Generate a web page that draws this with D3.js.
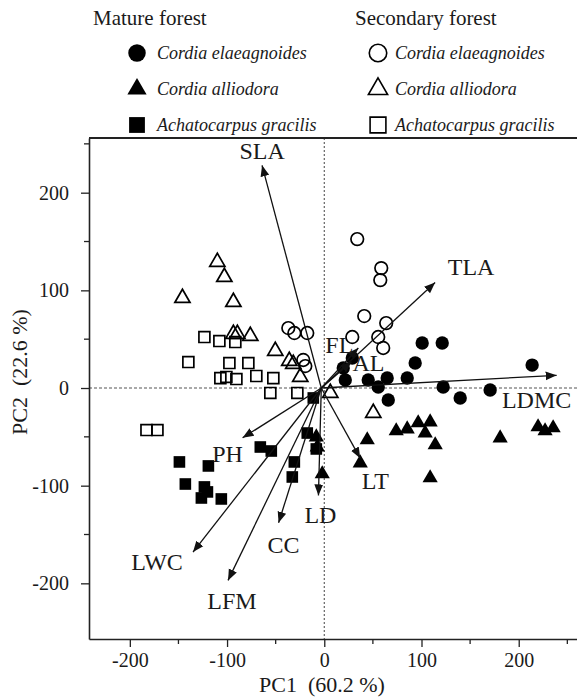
<!DOCTYPE html>
<html>
<head>
<meta charset="utf-8">
<script src="https://cdn.jsdelivr.net/npm/d3@7"></script>
<style>
  body { margin: 0; background: #fff; }
  svg { display: block; }
</style>
</head>
<body>
<svg id="chart"></svg>
<script>
// PC scores
var matureCordiaElae = [[19.5, 20.5], [28.8, 30.7], [21.6, 8.2], [45.2, 8.2], [55.5, 1.0], [64.7, 10.2],
  [65.8, -12.3], [85.3, 10.2], [93.5, 25.6], [100.7, 46.1], [121.3, 46.1], [122.3, 1.0], [139.8, -10.2],
  [170.6, -2.0], [213.8, 23.5]]
var matureCordiaAllio = [[-8.2, -50.2], [-7.2, -60.4], [-2.1, -88.0], [37.0, -76.8], [44.2, -53.2], [74.0, -44.0],
  [85.3, -42.0], [96.6, -35.8], [108.9, -34.8], [103.8, -46.1], [114.1, -58.3], [108.9, -92.1], [180.9, -51.2],
  [219.9, -39.9], [227.1, -44.0], [235.4, -40.9]]
var matureAchato = [[-11.3, -10.2], [-17.5, -46.1], [-8.2, -62.4], [-65.8, -60.4], [-54.5, -64.5], [-30.8, -75.7],
  [-32.9, -91.1], [-149.0, -75.7], [-119.2, -79.8], [-142.9, -98.3], [-123.3, -101.3], [-120.2, -106.4],
  [-126.4, -112.6], [-105.9, -113.6]]
var secCordiaElae = [[33.9, 152.5], [58.6, 122.8], [57.6, 110.5], [41.1, 73.7], [63.7, 66.5], [-37.0, 61.4],
  [-30.8, 56.3], [-17.5, 56.3], [-21.6, 28.7], [-19.5, 22.5], [28.8, 52.2], [55.5, 52.2], [60.6, 41.0]]
var secCordiaAllio = [[-110.0, 129.0], [-102.8, 113.6], [-145.9, 92.1], [-93.5, 88.0], [-93.5, 55.3], [-89.4, 55.3],
  [-76.1, 53.2], [-50.4, 37.9], [-36.0, 27.6], [-31.9, 24.6], [-24.7, 11.3], [6.2, -5.1], [50.4, -25.6]]
var secAchato = [[-123.3, 52.2], [-107.9, 48.1], [-91.5, 47.1], [-139.8, 26.6], [-97.6, 25.6], [-78.1, 25.6],
  [-106.9, 10.2], [-100.7, 11.3], [-90.4, 9.2], [-69.9, 12.3], [-52.4, 10.2], [-55.5, -5.1], [-27.7, -5.1],
  [-182.9, -43.0], [-171.6, -43.0]]

// trait vectors
var traitNames = ["SLA", "TLA", "FL", "AL", "LDMC", "LT", "LD", "CC", "LFM", "LWC", "PH"]
var traitX = [-64, 114, 35, 28, 239, 37, -6, -47, -99, -135, -84]
var traitY = [228, 108, 41, 27, 13, -72, -110, -138, -197, -168, -51]

var xTicks = [-200, -100, 0, 100, 200]
var yTicks = [-200, -100, 0, 100, 200]
var minorTicks = [-150, -50, 50, 150, 250]

var legendTitles = ["Mature forest", "Secondary forest"]
var speciesNames = ["Cordia elaeagnoides", "Cordia alliodora", "Achatocarpus gracilis"]

var serif = "'Liberation Serif', 'Times New Roman', Times, serif"
var dimensions = { width: 577, height: 698 }
var svg = d3.select("#chart")
  .attr("width", dimensions.width)
  .attr("height", dimensions.height)
  .attr("font-family", serif)

var xScale = d3.scaleLinear().domain([-242, 262]).range([89, 579])
var yScale = d3.scaleLinear().domain([-257, 256]).range([639, 138])

// label placement relative to arrow tip (px)
var labelOffset = {
  SLA: [0, -6], TLA: [36, -8], FL: [-19, 5], AL: [17, 9], LDMC: [-20, 33], LT: [15, 31],
  LD: [2, 28], CC: [5, 30], LFM: [4, 29], LWC: [-36, 18], PH: [-15, 24]
}

// reference lines
svg.append("line")
  .attr("x1", xScale(0)).attr("x2", xScale(0))
  .attr("y1", yScale.range()[1]).attr("y2", yScale.range()[0])
  .attr("stroke", "#555").attr("stroke-width", 1.1).attr("stroke-dasharray", "2,2")
svg.append("line")
  .attr("x1", xScale.range()[0]).attr("x2", xScale.range()[1])
  .attr("y1", yScale(0)).attr("y2", yScale(0))
  .attr("stroke", "#555").attr("stroke-width", 1.1).attr("stroke-dasharray", "3,2")

// axes
var xAxis = svg.append("g")
  .attr("transform", `translate(0,${yScale.range()[0]})`)
  .call(d3.axisBottom(xScale).tickValues(xTicks).tickSize(8).tickSizeOuter(0).tickPadding(6))
xAxis.append("g").selectAll("line").data(minorTicks).join("line")
  .attr("x1", d => xScale(d)).attr("x2", d => xScale(d)).attr("y1", 0).attr("y2", 5)
  .attr("stroke", "#222").attr("stroke-width", 1.3)
var yAxis = svg.append("g")
  .attr("transform", `translate(${xScale.range()[0]},0)`)
  .call(d3.axisLeft(yScale).tickValues(yTicks).tickSize(8).tickSizeOuter(0).tickPadding(12))
yAxis.append("g").selectAll("line").data(minorTicks).join("line")
  .attr("y1", d => yScale(d)).attr("y2", d => yScale(d)).attr("x1", 0).attr("x2", -5)
  .attr("stroke", "#222").attr("stroke-width", 1.3)
xAxis.attr("font-family", serif).attr("font-size", 20)
yAxis.attr("font-family", serif).attr("font-size", 20)
svg.selectAll(".domain").attr("stroke", "#222").attr("stroke-width", 1.6)
svg.selectAll(".tick line").attr("stroke", "#222").attr("stroke-width", 1.3)
svg.selectAll(".tick text").attr("fill", "#1a1a1a")
xAxis.selectAll(".tick text").text(d => d < 0 ? "-" + Math.abs(d) : d)
yAxis.selectAll(".tick text").text(d => d < 0 ? "-" + Math.abs(d) : d)

// top frame line
svg.append("line")
  .attr("x1", xScale.range()[0]).attr("x2", xScale.range()[1])
  .attr("y1", yScale.range()[1]).attr("y2", yScale.range()[1])
  .attr("stroke", "#222").attr("stroke-width", 1.8)

// axis titles
svg.append("text").attr("x", 322).attr("y", 692).attr("text-anchor", "middle")
  .attr("font-size", 22).attr("fill", "#1a1a1a").style("white-space", "pre").text("PC1  (60.2 %)")
svg.append("text").attr("transform", "translate(27,372) rotate(-90)").attr("text-anchor", "middle")
  .attr("font-size", 22).attr("fill", "#1a1a1a").style("white-space", "pre").text("PC2  (22.6 %)")

// points
var groups = [
  { data: matureCordiaElae, type: d3.symbolCircle, filled: true, size: 140 },
  { data: matureCordiaAllio, type: d3.symbolTriangle, filled: true, size: 100 },
  { data: matureAchato, type: d3.symbolSquare, filled: true, size: 135 },
  { data: secCordiaElae, type: d3.symbolCircle, filled: false, size: 125 },
  { data: secCordiaAllio, type: d3.symbolTriangle, filled: false, size: 100 },
  { data: secAchato, type: d3.symbolSquare, filled: false, size: 120 }
]
groups.forEach(g => {
  svg.append("g").selectAll("path").data(g.data).join("path")
    .attr("transform", d => `translate(${xScale(d[0])},${yScale(d[1])})`)
    .attr("d", d3.symbol().type(g.type).size(g.size))
    .attr("fill", g.filled ? "#000" : "none")
    .attr("stroke", "#000")
    .attr("stroke-width", g.filled ? 0 : 1.7)
})

// arrows
svg.append("defs").append("marker")
  .attr("id", "head").attr("viewBox", "0 -5 10 10")
  .attr("refX", 10).attr("refY", 0)
  .attr("markerWidth", 11).attr("markerHeight", 11)
  .attr("markerUnits", "userSpaceOnUse")
  .attr("orient", "auto")
  .append("path").attr("d", "M0,-4L10,0L0,4Z").attr("fill", "#111")

var traits = traitNames.map((n, i) => ({ name: n, x: traitX[i], y: traitY[i] }))
svg.append("g").selectAll("line").data(traits).join("line")
  .attr("x1", xScale(0) - 3).attr("y1", yScale(0))
  .attr("x2", d => xScale(d.x)).attr("y2", d => yScale(d.y))
  .attr("stroke", "#111").attr("stroke-width", 1.3)
  .attr("marker-end", "url(#head)")

svg.append("g").selectAll("text").data(traits).join("text")
  .attr("x", d => xScale(d.x) + labelOffset[d.name][0])
  .attr("y", d => yScale(d.y) + labelOffset[d.name][1])
  .attr("text-anchor", "middle")
  .attr("font-size", 24).attr("fill", "#1a1a1a")
  .text(d => d.name)

// legend
var legX = [93, 355]
var markX = [137, 378]
var textX = [157, 395]
var rowY = [53, 89, 125]
var legTypes = [d3.symbolCircle, d3.symbolTriangle, d3.symbolSquare]
var legSizes = [240, 160, 250]
legendTitles.forEach((t, c) => {
  svg.append("text").attr("x", legX[c]).attr("y", 25).attr("font-size", 21).attr("fill", "#1a1a1a").text(t)
  speciesNames.forEach((s, r) => {
    svg.append("path")
      .attr("transform", `translate(${markX[c]},${rowY[r]})`)
      .attr("d", d3.symbol().type(legTypes[r]).size(legSizes[r]))
      .attr("fill", c === 0 ? "#000" : "none")
      .attr("stroke", "#000").attr("stroke-width", c === 0 ? 0 : 1.6)
    svg.append("text").attr("x", textX[c]).attr("y", rowY[r] + 6)
      .attr("font-size", 18).attr("font-style", "italic").attr("fill", "#1a1a1a").text(s)
  })
})
</script>
</body>
</html>
